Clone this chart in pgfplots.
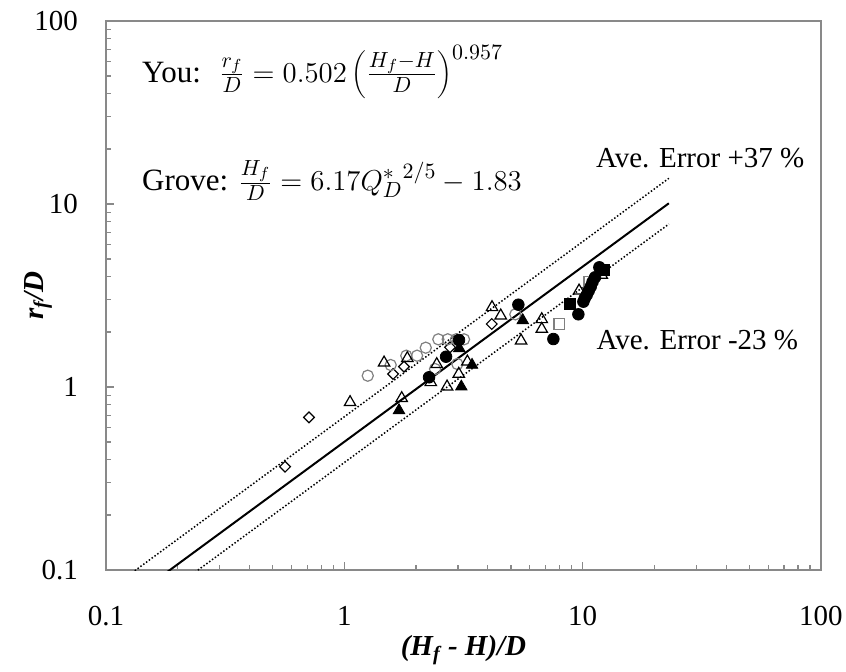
\documentclass[border=0pt]{standalone}
\usepackage{fontspec}
\setmainfont{Liberation Serif}
\usepackage{pgfplots}
\pgfplotsset{compat=1.18}
\definecolor{axgray}{RGB}{137,137,137}
\definecolor{ptgray}{RGB}{128,128,128}

\begin{document}
\fontsize{14.5}{17}\selectfont
\begin{tikzpicture}
\begin{axis}[
  xmode=log, ymode=log,
  scale only axis, width=357.5pt, height=274.5pt,
  xmin=0.1, xmax=100, ymin=0.1, ymax=100,
  xtick={0.1,1,10,100}, xticklabels={0.1,1,10,100},
  ytick={0.1,1,10,100}, yticklabels={0.1,1,10,100},
  tick align=inside, xtick pos=left, ytick pos=left,
  major tick length=4pt, minor tick length=2.6pt,
  axis line style={axgray, line width=0.8pt},
  every tick/.style={axgray, line width=0.6pt},
  xticklabel style={yshift=-13pt},
  yticklabel style={xshift=-9pt},
  xlabel={\textbf{\textit{(H\textsubscript{f} - H)/D}}},
  ylabel={\textbf{\textit{r\textsubscript{f}/D}}},
  xlabel style={at={(axis description cs:0.5,-0.146)}, anchor=center},
  ylabel style={at={(axis description cs:-0.095,0.5)}, anchor=center, rotate=0},
  clip=true,
]
% fitted line and error bounds
\addplot[black, line width=1pt] coordinates {(0.18,0.0972) (23,10.09)};
\addplot[black, densely dotted, line width=0.75pt] coordinates {(0.125,0.0940) (23,13.82)};
\addplot[black, densely dotted, line width=0.75pt] coordinates {(0.23,0.0947) (23,7.77)};

% open diamonds
\addplot[only marks, black, mark=square, mark size=1.9pt, mark options={rotate=45, line width=0.6pt, fill=none}]
 coordinates {(0.564,0.367) (0.711,0.683) (1.601,1.178) (1.780,1.291) (2.778,1.648) (4.155,2.210)};

% gray open circles
\addplot[only marks, ptgray, mark=o, mark size=2.8pt, mark options={line width=0.6pt}]
 coordinates {(1.254,1.153) (1.565,1.319) (1.820,1.483) (2.019,1.483) (2.196,1.640) (2.480,1.822)
 (2.716,1.822) (2.942,1.822) (3.179,1.822) (2.402,1.254) (2.980,1.336) (5.219,2.496)};

% open triangles
\addplot[only marks, black, mark=triangle, mark size=3.3pt, mark options={line width=0.6pt, fill=none}]
 coordinates {(1.057,0.825) (1.468,1.358) (1.838,1.435) (1.741,0.868) (2.442,1.331) (2.305,1.061)
 (3.283,1.375) (3.021,1.178) (2.698,1.004) (4.166,2.726) (4.532,2.454) (5.515,1.791)
 (6.736,2.344) (6.736,2.074) (9.659,3.358) (12.03,4.093)};

% filled triangles
\addplot[only marks, black, mark=triangle*, mark size=3.3pt, mark options={fill=black}]
 coordinates {(1.696,0.746) (3.038,1.627) (3.435,1.319) (3.097,1.004) (5.606,2.314)};

% gray open squares
\addplot[only marks, ptgray, mark=square, mark size=2.7pt, mark options={line width=0.6pt, fill=none}]
 coordinates {(7.985,2.210) (10.67,3.762)};

% filled squares
\addplot[only marks, black, mark=square*, mark size=2.8pt, mark options={fill=black}]
 coordinates {(8.853,2.842) (12.30,4.358)};

% filled circles
\addplot[only marks, black, mark=*, mark size=2.9pt, mark options={fill=black}]
 coordinates {(2.267,1.130) (2.672,1.464) (3.029,1.806) (5.373,2.817) (7.537,1.829) (9.594,2.496)
 (10.07,2.925) (10.2,3.05) (10.40,3.182) (10.6,3.35) (10.81,3.533) (11.0,3.75) (11.27,3.976) (11.75,4.510)};

\node[anchor=west, inner sep=0, font=\fontsize{15.5}{18}\selectfont] at (rel axis cs:0.05,0.907)
 {You: \ $\frac{r_f}{D} = 0.502\left(\frac{H_f-H}{D}\right)^{0.957}$};
\node[anchor=west, inner sep=0, font=\fontsize{15.5}{18}\selectfont] at (rel axis cs:0.05,0.710)
 {Grove: $\frac{H_f}{D} = 6.17{Q_D^*}^{2/5} - 1.83$};
\node[anchor=center, inner sep=0] at (rel axis cs:0.831,0.750) {Ave. Error +37 \%};
\node[anchor=center, inner sep=0] at (rel axis cs:0.827,0.419) {Ave. Error -23 \%};
\end{axis}
\pgfresetboundingbox
\path ([shift={(-53pt,-50.5pt)}]current axis.south west) rectangle ([shift={(12.5pt,10.5pt)}]current axis.north east);
\end{tikzpicture}
\end{document}
